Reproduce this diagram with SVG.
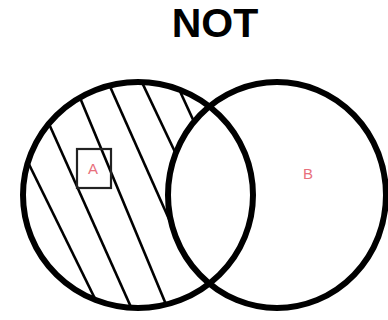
<svg xmlns="http://www.w3.org/2000/svg" width="388" height="320" viewBox="0 0 388 320">
<style>
.ring{fill:none;stroke:#000;stroke-width:6}
.hatch{stroke:#000;stroke-width:2.6;fill:none}
.lbl{font-family:"Liberation Sans",Arial,sans-serif;font-size:15px;fill:#e8707c;text-anchor:middle}
.title{font-family:"Liberation Sans",Arial,sans-serif;font-size:41px;font-weight:bold;fill:#000;text-anchor:middle}
</style>
<defs>
<clipPath id="clipA"><ellipse cx="138" cy="195" rx="115" ry="113"/></clipPath>
</defs>
<rect width="388" height="320" fill="#fff"/>
<text class="title" x="215" y="37">NOT</text>
<g id="connectors">
<g id="hatching" clip-path="url(#clipA)">
<line class="hatch" x1="20" y1="146" x2="103" y2="315"/>
<line class="hatch" x1="42.8" y1="110" x2="134.5" y2="315"/>
<line class="hatch" x1="74.7" y1="85" x2="170.4" y2="315"/>
<line class="hatch" x1="104.9" y1="75" x2="178.3" y2="240"/>
<line class="hatch" x1="136.1" y1="70" x2="188.3" y2="180"/>
<line class="hatch" x1="172.5" y1="75" x2="202.4" y2="140"/>
</g>
</g>
<ellipse cx="277" cy="195" rx="109" ry="113" fill="#fff"/>
<g id="setA">
<ellipse class="ring" cx="138" cy="195" rx="115" ry="113"/>
<rect x="77" y="149" width="34" height="39" fill="none" stroke="#222" stroke-width="2.2"/>
<text class="lbl" x="93" y="174">A</text>
</g>
<g id="setB">
<ellipse class="ring" cx="277" cy="195" rx="109" ry="113"/>
<text class="lbl" x="308" y="179">B</text>
</g>
</svg>
